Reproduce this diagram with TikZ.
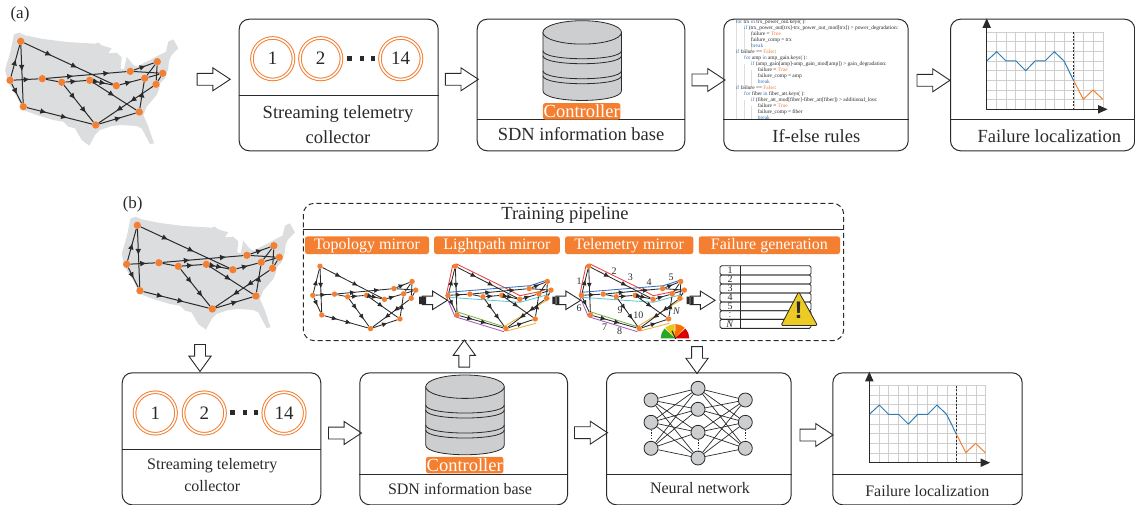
\documentclass[tikz,border=0pt]{standalone}
\usepackage{fontspec}
\setmainfont{Liberation Serif}
\setsansfont{Liberation Sans}
\usetikzlibrary{arrows.meta,decorations.markings,shapes.arrows}
\definecolor{ink}{HTML}{2B2A2A}
\definecolor{dorange}{HTML}{F47F31}
\definecolor{mapgray}{HTML}{DCDDDF}
\definecolor{dbgray}{HTML}{CDCED0}
\definecolor{gridgray}{HTML}{CFCFCF}
\definecolor{plotblue}{HTML}{2F7DB5}
\definecolor{kwblue}{HTML}{3B6FB5}
\definecolor{pathred}{HTML}{E8413C}
\definecolor{pathcyan}{HTML}{62C6D2}
\definecolor{pathgreen}{HTML}{7AB648}
\definecolor{pathpurple}{HTML}{A85CB8}
\definecolor{pathyellow}{HTML}{E8B23C}
\newcommand\fsz[1]{\fontsize{#1}{#1}\selectfont}
\tikzset{
  x=1pt,y=-1pt,
  every node/.style={text=ink},
  flowbox/.style={draw=ink,line width=1pt,rounded corners=10pt,rectangle,inner sep=0,anchor=north west},
  blockarr/.style={single arrow,draw=ink,fill=white,line width=.9pt,inner sep=0,text height=11pt,text depth=0pt,text width=0pt,
    minimum height=33pt,single arrow head extend=5.5pt,single arrow head indent=0pt,single arrow tip angle=67},
  blockdown/.style={blockarr,minimum height=27pt,text height=10pt,single arrow head extend=5.7pt,single arrow tip angle=72},
  minib/.style={blockarr,minimum height=25pt,text height=7.6pt,single arrow head extend=5pt,single arrow tip angle=64},
  lab/.style={inner sep=0,font=\fsz{18.5}},
  labs/.style={inner sep=0,font=\fsz{16}},
  pill/.style={fill=dorange,rounded corners=2.5pt,inner sep=0,text=white,font=\fsz{16},text height=12pt,text depth=3pt},
  ctrl/.style={fill=dorange,rounded corners=2.5pt,inner sep=0,text=white,font=\fsz{18.5},text height=12.5pt,text depth=.5pt,minimum height=16.5pt,minimum width=77.5pt},
  sensor/.style={circle,draw=dorange,line width=1pt,double=white,double distance=1.6pt,inner sep=0,minimum size=41.5pt,font=\fsz{19}},
  sq/.style={fill=ink,inner sep=0,minimum size=4.6pt},
  netline/.style={draw=ink,line width=\netlw pt},
  ma/.style={postaction={decorate,decoration={markings,mark=at position #1 with {\arrow{Latex[length=\netal pt,width=\netaw pt]}}}}},
  netnode/.style={circle,fill=dorange,inner sep=0,minimum size=\netns pt},
  nnode/.style={circle,draw=ink,fill=dbgray,line width=.8pt,inner sep=0,minimum size=14pt},
  nnedge/.style={draw=ink,line width=.7pt},
  nndots/.style={draw=ink,line width=1pt,dash pattern=on 1.3pt off 1.4pt},
  rowbox/.style={draw=ink,line width=.9pt,rounded corners=1.5pt},
  tlabel/.style={inner sep=0,font=\fsz{10}},
  code/.style={inner sep=0,anchor=base west,font=\fsz{5.4}},
}
\newcommand\kw[1]{\textcolor{kwblue}{#1}}
\newcommand\tr[1]{\textcolor{dorange}{#1}}
% network: prefix, ox, oy, sx, sy, node size, arrow length, arrow width, line width
\newcommand\usnet[9]{%
 \def\netns{#6}\def\netal{#7}\def\netaw{#8}\def\netlw{#9}%
 \begin{scope}[shift={(#2,#3)},xscale=#4,yscale=#5]
  \node[netnode] (#1-A) at (20.7,41.3) {};
  \node[netnode] (#1-B) at (10,80.3) {};
  \node[netnode] (#1-C) at (23.3,106.7) {};
  \node[netnode] (#1-D) at (42.3,78.7) {};
  \node[netnode] (#1-E) at (61.7,82.3) {};
  \node[netnode] (#1-F) at (89.7,80.3) {};
  \node[netnode] (#1-G) at (116.3,85.7) {};
  \node[netnode] (#1-H) at (130.3,71.3) {};
  \node[netnode] (#1-I) at (157.3,61.7) {};
  \node[netnode] (#1-J) at (162.7,73.3) {};
  \node[netnode] (#1-K) at (144.7,78.3) {};
  \node[netnode] (#1-L) at (156,84.3) {};
  \node[netnode] (#1-M) at (139.3,112) {};
  \node[netnode] (#1-N) at (95.7,125) {};
  \draw[netline,ma=.31,ma=.6] (#1-A) -- (#1-G);
  \draw[netline,ma=.45] (#1-A) -- (#1-C);
  \draw[netline,ma=.55] (#1-B) -- (#1-A);
  \draw[netline,ma=.55] (#1-B) -- (#1-C);
  \draw[netline,ma=.3,ma=.62] (#1-C) -- (#1-N);
  \draw[netline,ma=.65] (#1-B) -- (#1-D);
  \draw[netline,ma=.34,ma=.79] (#1-D) -- (#1-H);
  \draw[netline,ma=.6] (#1-H) -- (#1-I);
  \draw[netline] (#1-D) -- (#1-E);
  \draw[netline,ma=.55] (#1-E) -- (#1-F);
  \draw[netline,ma=.3,ma=.65] (#1-F) -- (#1-G);
  \draw[netline,ma=.55] (#1-G) -- (#1-K);
  \draw[netline] (#1-K) -- (#1-I);
  \draw[netline] (#1-K) -- (#1-J);
  \draw[netline] (#1-I) -- (#1-L);
  \draw[netline] (#1-J) -- (#1-L);
  \draw[netline] (#1-H) -- (#1-J);
  \draw[netline,ma=.65] (#1-M) -- (#1-K);
  \draw[netline,ma=.5] (#1-F) -- (#1-M);
  \draw[netline,ma=.38,ma=.75] (#1-E) -- (#1-N);
  \draw[netline,ma=.6] (#1-N) -- (#1-M);
  \draw[netline,ma=.42,ma=.68] (#1-L) -- (#1-N);
 \end{scope}}
\newcommand\usmap[2]{%
 \begin{scope}[shift={(#1,#2)},xscale=1/3,yscale=1/3]
  \fill[mapgray] (42,103)--(58,98)--(75,106)--(130,117)--(200,126)--(285,131)--(295,128)--(305,136)--(335,145)--(325,160)--(350,158)--(365,172)--(362,205)--(372,208)--(380,170)--(392,185)--(400,195)--(412,200)--(430,190)--(450,180)--(478,165)--(498,155)--(505,125)--(520,118)--(535,145)--(515,165)--(507,182)--(505,205)--(495,235)--(480,250)--(478,265)--(470,285)--(440,320)--(430,345)--(445,380)--(462,430)--(450,432)--(425,385)--(410,378)--(365,375)--(335,378)--(300,390)--(285,405)--(268,437)--(245,420)--(225,385)--(205,380)--(190,365)--(160,360)--(110,345)--(70,330)--(50,290)--(25,250)--(15,210)--(30,160)--cycle;
 \end{scope}}
\newcommand\cyl[2]{%
 \begin{scope}[shift={(#1,#2)}]
  \draw[draw=ink,fill=dbgray,line width=.8pt] (-39.3,386.7) -- (-39.3,445) .. controls (-39.3,458) and (39.3,458) .. (39.3,445) -- (39.3,386.7) -- cycle;
  \draw[draw=ink,line width=.8pt] (-39.3,405) .. controls (-39.3,415.7) and (39.3,415.7) .. (39.3,405);
  \draw[draw=ink,line width=.8pt] (-39.3,410) .. controls (-39.3,420.7) and (39.3,420.7) .. (39.3,410);
  \draw[draw=ink,line width=.8pt] (-39.3,425) .. controls (-39.3,435.7) and (39.3,435.7) .. (39.3,425);
  \draw[draw=ink,line width=.8pt] (-39.3,430) .. controls (-39.3,440.7) and (39.3,440.7) .. (39.3,430);
  \draw[draw=ink,fill=dbgray,line width=.8pt] (0,386.7) ellipse [x radius=39.3,y radius=11.7];
 \end{scope}}
\newcommand\chart[2]{%
 \begin{scope}[shift={(#1,#2)}]
  \foreach \i in {0,...,12} \draw[gridgray,line width=1pt] ({986.7+\i*9.72},32.3) -- ({986.7+\i*9.72},109.3);
  \foreach \j in {0,...,8} \draw[gridgray,line width=1pt] (986.7,{32.3+\j*9.63}) -- (1103.3,{32.3+\j*9.63});
  \draw[ink,line width=.8pt,dash pattern=on 2pt off 1.6pt] (1073.7,32.3) -- (1073.7,109.3);
  \draw[plotblue,line width=1pt] (986.7,61) -- (996.7,51.7) -- (1006,61) -- (1016,61) -- (1025.7,70.7) -- (1035,61) -- (1045,61) -- (1054.3,51.7) -- (1064,61) -- (1073.7,80.7);
  \draw[dorange,line width=1pt] (1073.7,80.7) -- (1083.3,99.3) -- (1093,90) -- (1102.7,99.3);
  \draw[ink,line width=1pt] (986.7,28) -- (986.7,109.3) -- (1100,109.3);
  \fill[ink] (986.7,18.3) -- (991,28) -- (982.4,28) -- cycle;
  \fill[ink] (1107.5,109.3) -- (1098,105) -- (1098,113.6) -- cycle;
 \end{scope}}
\newcommand\lightpaths[1]{%
 \begin{scope}[shift={(#1,0)},line width=.85pt]
  \draw[pathred] (446.6,293.7) -- (452.6,265.7) -- (456.6,264) -- (504.9,287.7) -- (519.9,295.7) -- (539.3,291.7) -- (545,289.5);
  \draw[kwblue] (448.3,292.3) -- (530,285.7) -- (548.3,279.7);
  \draw[pathcyan] (449,297.3) -- (486.7,300) -- (520,302.3) -- (550,294);
  \draw[pathgreen] (456.7,311.7) -- (504,326.7);
  \draw[pathpurple] (445.7,295) -- (455,316.7) -- (504,331.7);
  \draw[pathyellow] (504,326.7) -- (550,298.3);
  \draw[pathyellow] (506.7,331) -- (536,323.3);
 \end{scope}}
\begin{document}
\begin{tikzpicture}
\useasboundingbox (0,0) rectangle (1135,505);
% ---------- part (a)
\node[inner sep=0,font=\fsz{17}] (la) at (20,14) {(a)};
\usmap{0}{0}
\usnet{na}{0}{0}{1}{1}{7.3}{6.2}{5.8}{1}
\node[blockarr] (a0) at (209.2,79.3) {};
% collector a
\node[flowbox,minimum width=199pt,minimum height=131.6pt] (ca) at (238.7,18.7) {};
\draw[draw=ink,line width=1pt] (ca.west |- 0,96) -- (ca.east |- 0,96);
\node[sensor] (ca1) at (272.7,58.7) {1};
\node[sensor] (ca2) at (320.7,58.7) {2};
\node[sensor] (ca3) at (400.7,58.7) {14};
\node[sq] (ca4) at (349.3,58.7) {};
\node[sq] (ca5) at (362,58.7) {};
\node[sq] (ca6) at (373,58.7) {};
\node[lab] (ca7) at (338,114) {Streaming telemetry};
\node[lab] (ca8) at (338,137) {collector};
\node[blockarr] (a1) at (457.3,79.3) {};
% SDN a
\node[flowbox,minimum width=207.6pt,minimum height=131.6pt] (sa) at (476.7,18.7) {};
\draw[draw=ink,line width=1pt] (sa.west |- 0,120) -- (sa.east |- 0,120);
\cyl{582.2}{-354.3}
\node[ctrl] (sa1) at (581.7,111.3) {Controller};
\node[lab] (sa2) at (581,134.3) {SDN information base};
\node[blockarr] (a2) at (704,80) {};
% rules
\node[flowbox,minimum width=184.4pt,minimum height=131.6pt] (ra) at (723.3,18.7) {};
\draw[draw=ink,line width=1pt] (ra.west |- 0,120) -- (ra.east |- 0,120);
\begin{scope}
 \clip (725,19.5) rectangle (906,119.6);
 \draw[gridgray!70!white,line width=1.1pt] (736.8,20) -- (736.8,119) (744.5,28) -- (744.5,52) (744.5,64) -- (744.5,88) (744.5,100) -- (744.5,119) (751.5,34) -- (751.5,52) (751.5,70) -- (751.5,88) (751.5,106) -- (751.5,119);
 \node[code] at (735.7,23.6) {\kw{for} trx \kw{in} trx\_power\_out.keys( ):};
 \node[code] at (744,29.6) {\kw{if} (trx\_power\_out[trx]-trx\_power\_out\_mod[trx]) > power\_degradation:};
 \node[code] at (751,35.6) {failure = \tr{True}};
 \node[code] at (751,41.6) {failure\_comp = trx};
 \node[code] at (751,47.6) {\kw{break}};
 \node[code] at (735.7,53.6) {\kw{if} failure == \tr{False}:};
 \node[code] at (744,59.6) {\kw{for} amp \kw{in} amp\_gain.keys( ):};
 \node[code] at (751,65.6) {\kw{if} (amp\_gain[amp]-amp\_gain\_mod[amp]) > gain\_degradation:};
 \node[code] at (757.7,71.6) {failure = \tr{True}};
 \node[code] at (757.7,77.6) {failure\_comp = amp};
 \node[code] at (757.7,83.6) {\kw{break}};
 \node[code] at (735.7,89.6) {\kw{if} failure == \tr{False}:};
 \node[code] at (744,95.6) {\kw{for} fiber \kw{in} fiber\_att.keys( ):};
 \node[code] at (751,101.6) {\kw{if} (fiber\_att\_mod[fiber]-fiber\_att[fiber]) > additional\_loss:};
 \node[code] at (757.7,107.6) {failure = \tr{True}};
 \node[code] at (757.7,113.6) {failure\_comp = fiber};
 \node[code] at (757.7,119.6) {\kw{break}};
\end{scope}
\node[lab] (ra1) at (816.3,136) {If-else rules};
\node[blockarr] (a3) at (929,80.3) {};
% failure a
\node[flowbox,minimum width=184.2pt,minimum height=131.6pt] (fa) at (950,18.7) {};
\draw[draw=ink,line width=1pt] (fa.west |- 0,120) -- (fa.east |- 0,120);
\chart{0}{0}
\node[lab] (fa1) at (1049.3,136) {Failure localization};
% ---------- part (b)
\node[inner sep=0,font=\fsz{17}] (lb) at (132.7,204) {(b)};
\usmap{116.6}{184}
\usnet{nb}{116.6}{184}{1}{1}{7.3}{6.2}{5.8}{1}
\node[blockdown,rotate=-90] (b0) at (200,354.2) {};
% pipeline
\draw[draw=ink,line width=1pt,dash pattern=on 5pt off 3pt,rounded corners=11pt] (303.3,203.3) rectangle (843.7,340.7);
\draw[draw=ink,line width=1pt] (303.3,230) -- (843.7,230);
\node[lab] (tp) at (565,215) {Training pipeline};
\node[pill,minimum width=124pt,minimum height=17.7pt] (p1) at (367,245.2) {Topology mirror};
\node[pill,minimum width=125.7pt,minimum height=17.7pt] (p2) at (496.9,245.2) {Lightpath mirror};
\node[pill,minimum width=128.3pt,minimum height=17.7pt] (p3) at (629.2,245.2) {Telemetry mirror};
\node[pill,minimum width=141.3pt,minimum height=17.7pt] (p4) at (769.4,245.2) {Failure generation};
\usnet{m1}{306.05}{235.5}{.674}{.745}{5.4}{5.6}{5}{.85}
\lightpaths{0}
\usnet{m2}{441.35}{235.5}{.674}{.745}{5.4}{5.6}{5}{.85}
\lightpaths{133.4}
\usnet{m3}{574.75}{235.5}{.674}{.745}{5.4}{5.6}{5}{.85}
% mini arrows
\node[minib] (g1) at (431.5,300.3) {};
\fill[ink] (419,296.5) rectangle (422,304.1) (423,296.5) rectangle (426,304.1);
\node[minib] (g2) at (564.8,300.3) {};
\fill[ink] (552.3,296.5) rectangle (555.3,304.1) (556.3,296.5) rectangle (559.3,304.1);
\node[minib] (g3) at (699.2,300.3) {};
\fill[ink] (686.7,296.5) rectangle (689.7,304.1) (690.7,296.5) rectangle (693.7,304.1);
% path numbers
\node[tlabel] (t1) at (579,280.7) {1};
\node[tlabel] (t2) at (614,270.7) {2};
\node[tlabel] (t3) at (630.3,277.3) {3};
\node[tlabel] (t4) at (649,282.3) {4};
\node[tlabel] (t5) at (671,277.3) {5};
\node[tlabel] (t6) at (579,308.3) {6};
\node[tlabel] (t7) at (604.7,327.7) {7};
\node[tlabel] (t8) at (619.7,331.7) {8};
\node[tlabel] (t9) at (620,310.7) {9};
\node[tlabel] (t10) at (638.3,315.7) {10};
\node[tlabel] (tN) at (676.7,311.7) {\textit{N}};
% gauge
\begin{scope}[shift={(675,338.3)},y=1pt]
 \fill[green!60!black!85!white] (0,0) -- (180:14.3) arc[start angle=180,end angle=137,radius=14.3] -- cycle;
 \fill[yellow!75!orange!90!black] (0,0) -- (133:14.3) arc[start angle=133,end angle=92,radius=14.3] -- cycle;
 \fill[orange!85!red] (0,0) -- (88:14.3) arc[start angle=88,end angle=47,radius=14.3] -- cycle;
 \fill[red!85!black] (0,0) -- (43:14.3) arc[start angle=43,end angle=0,radius=14.3] -- cycle;
 \draw[ink,line width=1.1pt] (-3,7.5) -- (.7,-.7);
\end{scope}
% failure table
\foreach \ya/\yb in {265.7/275,275/284,284/293,293/302,302/310.7,310.7/319.3,319.3/328.3}
  \draw[rowbox] (720,\ya) rectangle (811,\yb);
\draw[ink,line width=1.1pt] (740.3,265.7) -- (740.3,328.3);
\node[tlabel] (r1) at (730,270.3) {1};
\node[tlabel] (r2) at (730,279.5) {2};
\node[tlabel] (r3) at (730,288.5) {3};
\node[tlabel] (r4) at (730,297.5) {4};
\node[tlabel] (r5) at (730,306.4) {5};
\node[tlabel] (r6) at (730,314.5) {\fsz{9}$\vdots$};
\node[tlabel] (r7) at (730,323.8) {\textit{N}};
\draw[draw=ink,fill=yellow!72!orange!85!gray,line width=.8pt,rounded corners=1.5pt] (798.7,291.7) -- (817.5,325.5) -- (781,325.5) -- cycle;
\node[inner sep=0,font=\fsz{24}\sffamily\bfseries] (warn) at (798.7,310.5) {!};
% arrows b
\node[blockdown,rotate=90] (b1) at (464.3,357.3) {};
\node[blockdown,rotate=-90] (b2) at (697,356.3) {};
% collector b
\node[flowbox,minimum width=198.6pt,minimum height=132pt] (cb) at (121.7,372.3) {};
\draw[draw=ink,line width=1pt] (cb.west |- 0,449.7) -- (cb.east |- 0,449.7);
\node[sensor] (cb1) at (155.3,413) {1};
\node[sensor] (cb2) at (204.3,413) {2};
\node[sensor] (cb3) at (284,413) {14};
\node[sq] (cb4) at (232.3,412.7) {};
\node[sq] (cb5) at (245,412.7) {};
\node[sq] (cb6) at (256,412.7) {};
\node[labs] (cb7) at (212.3,466) {Streaming telemetry};
\node[labs] (cb8) at (212.3,485.7) {collector};
\node[blockarr] (b3) at (340.5,433) {};
% SDN b
\node[flowbox,minimum width=207.7pt,minimum height=132pt] (sb) at (359.3,372.3) {};
\draw[draw=ink,line width=1pt] (sb.west |- 0,474.3) -- (sb.east |- 0,474.3);
\cyl{465}{0}
\node[ctrl] (sb1) at (464.7,465) {Controller};
\node[labs] (sb2) at (460,489) {SDN information base};
\node[blockarr] (b4) at (586.5,432.7) {};
% NN
\node[flowbox,minimum width=184.7pt,minimum height=132pt] (nn) at (606,372.3) {};
\draw[draw=ink,line width=1pt] (nn.west |- 0,474.3) -- (nn.east |- 0,474.3);
\node[nnode] (l1) at (651,400) {};
\node[nnode] (l2) at (651,422.3) {};
\node[nnode] (l3) at (651,448.3) {};
\node[nnode] (h1) at (698,388.3) {};
\node[nnode] (h2) at (698,409.3) {};
\node[nnode] (h3) at (698,432.3) {};
\node[nnode] (h4) at (698,458) {};
\node[nnode] (o1) at (745.3,400) {};
\node[nnode] (o2) at (745.3,422.3) {};
\node[nnode] (o3) at (745.3,448.3) {};
\foreach \h in {h1,h2,h3,h4} {
  \foreach \l in {l1,l2,l3} \draw[nnedge] (\l) -- (\h);
  \foreach \o in {o1,o2,o3} \draw[nnedge] (\h) -- (\o);
}
\draw[nndots] (l2) -- (l3);
\draw[nndots] (h3) -- (h4);
\draw[nndots] (o2) -- (o3);
\node[labs] (nn1) at (700,488.3) {Neural network};
\node[blockarr] (b5) at (812,435) {};
% failure b
\node[flowbox,minimum width=189.4pt,minimum height=132pt] (fb) at (832.3,372.3) {};
\draw[draw=ink,line width=1pt] (fb.west |- 0,474.3) -- (fb.east |- 0,474.3);
\chart{-117.4}{353.4}
\node[labs] (fb1) at (927.3,490.7) {Failure localization};
\end{tikzpicture}
\end{document}
